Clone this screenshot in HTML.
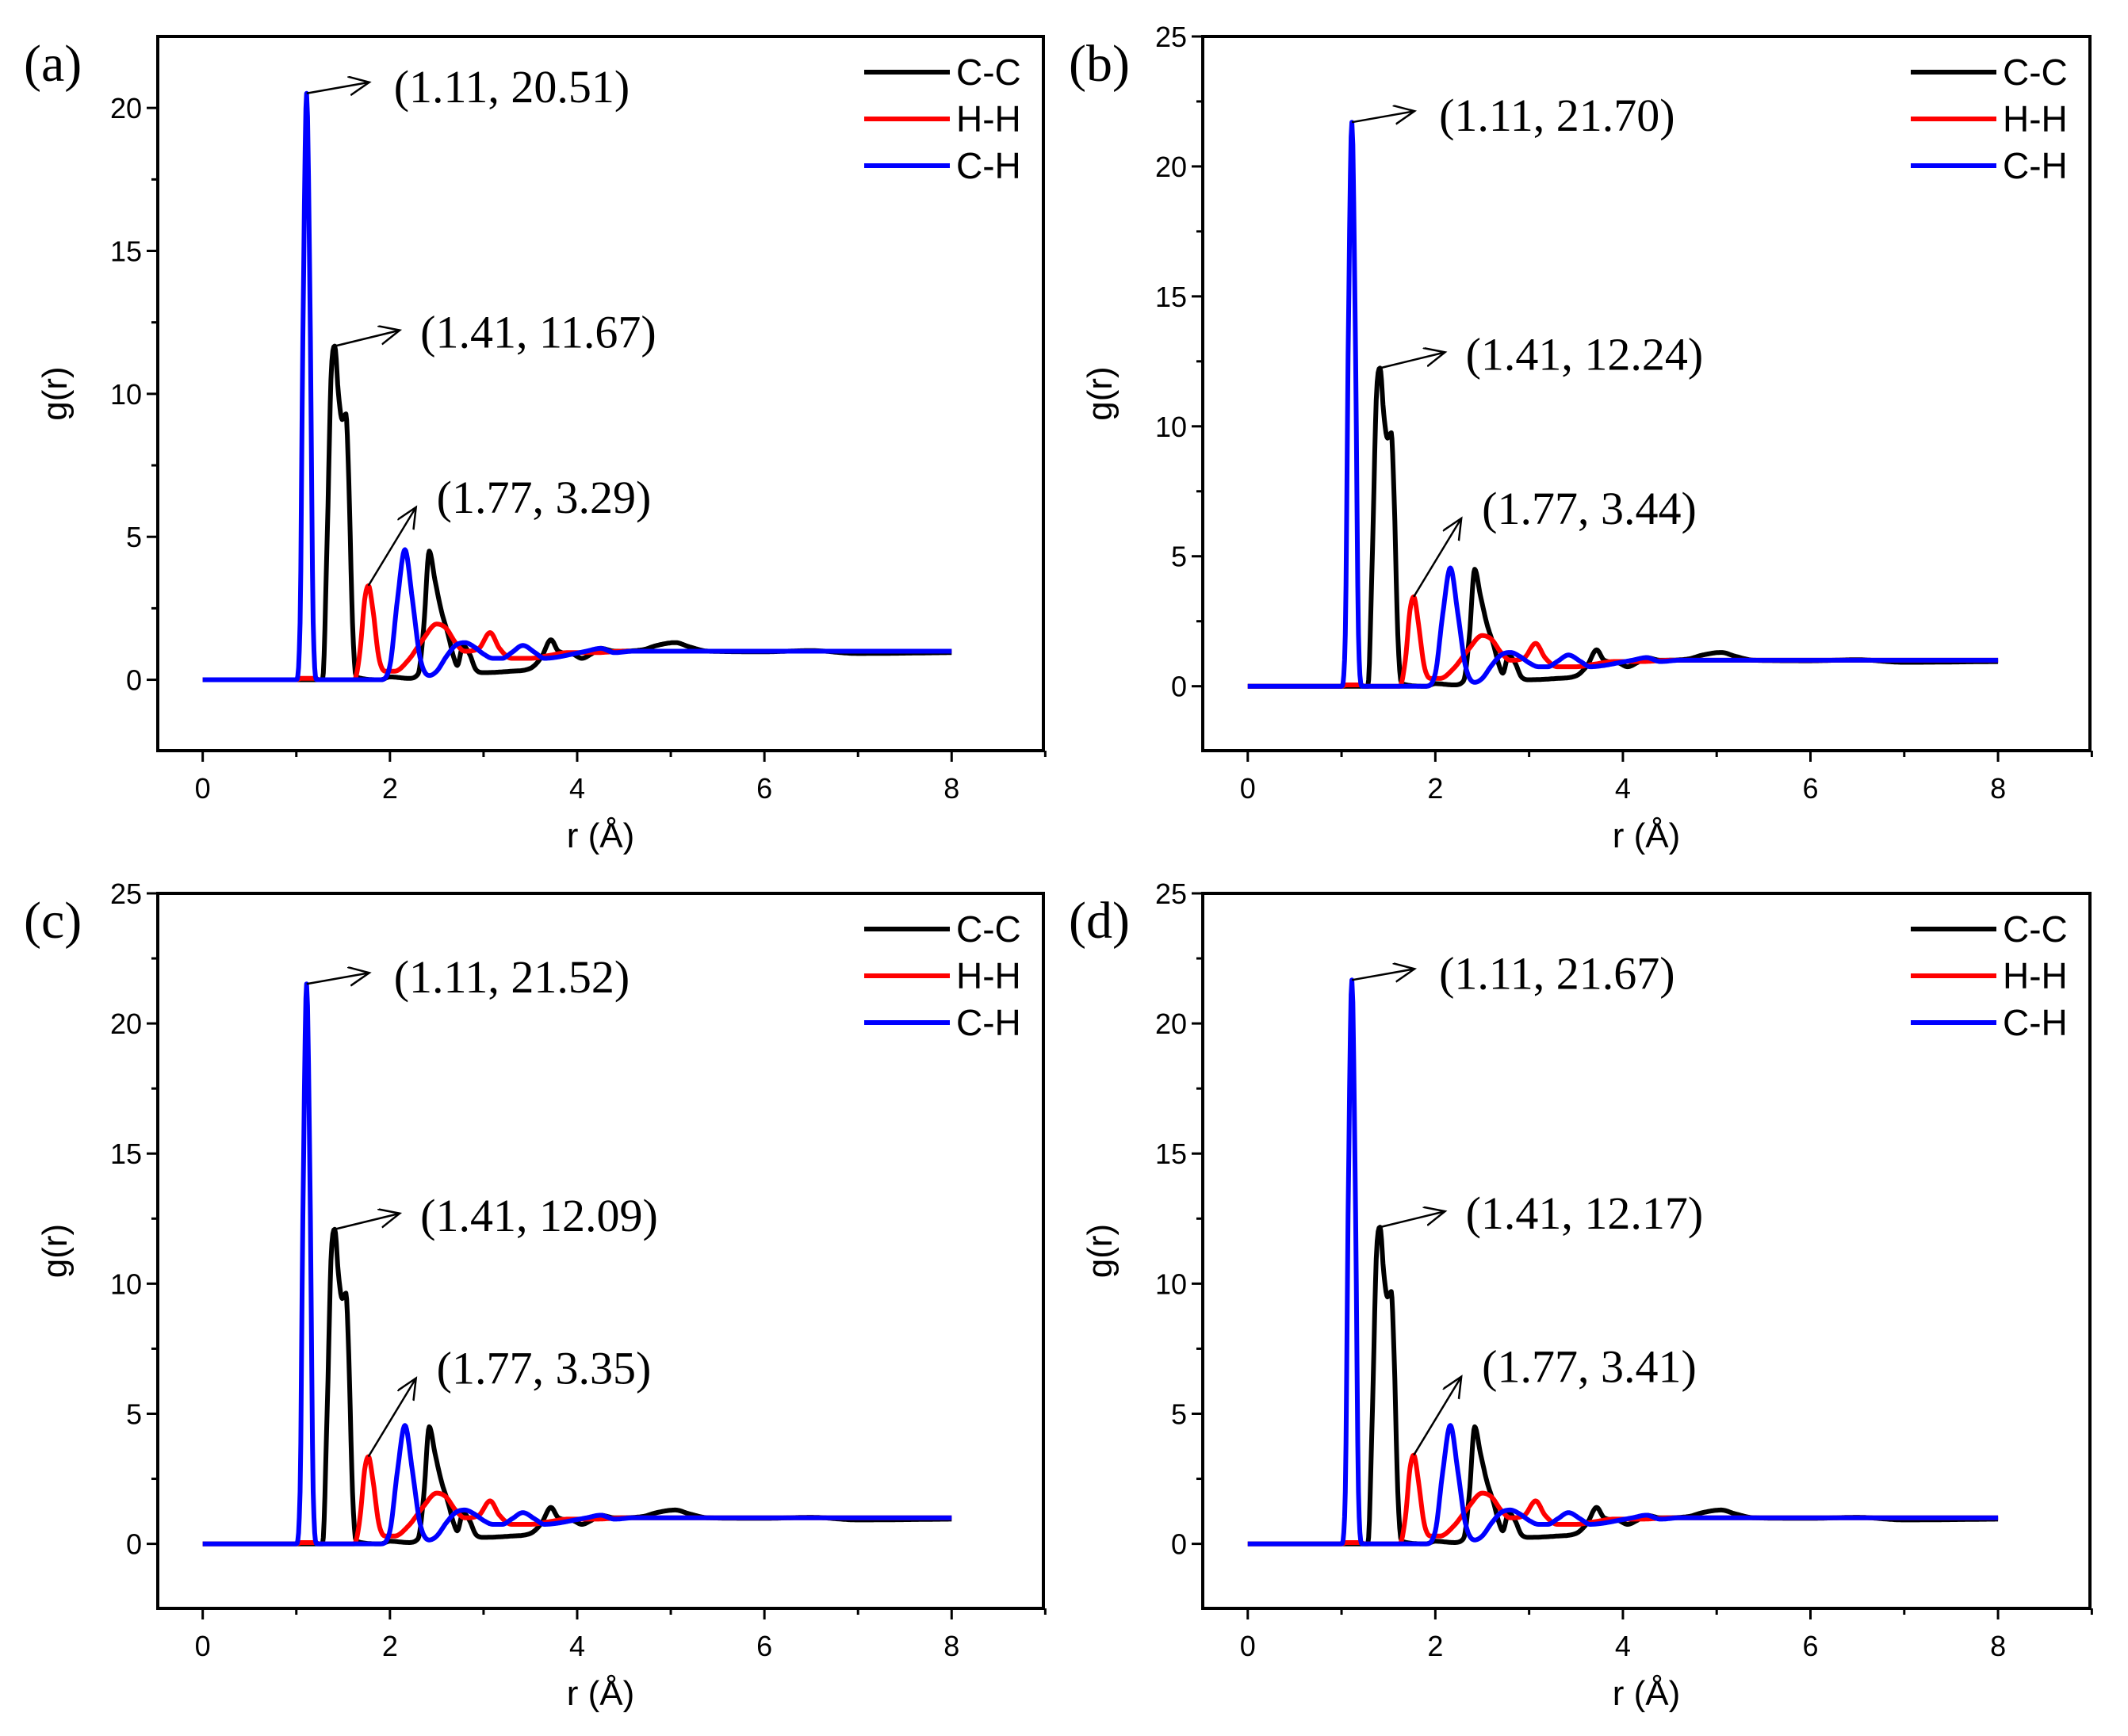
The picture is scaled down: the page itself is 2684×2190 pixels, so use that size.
<!DOCTYPE html>
<html><head><meta charset="utf-8"><style>
html,body{margin:0;padding:0;background:#fff;}
svg{display:block;}
</style></head><body>
<svg id="fig" width="2684" height="2190" viewBox="0 0 2684 2190" xmlns="http://www.w3.org/2000/svg"></svg>
<script>
// ---- data (panel a base curves; r in Å, g(r)) ----
const chR = [0,1.0,1.04,1.07,1.11,1.15,1.18,1.22,1.9,2.0,2.08,2.16,2.24,2.32,2.42,2.5,2.6,2.7,2.8,2.9,3.0,3.1,3.2,3.3,3.42,3.55,3.65,3.8,3.95,4.1,4.25,4.4,4.6,5,6,8];
const chG = [0,0,2,12,20.51,12,2,0,0,0.5,2.8,4.55,2.8,0.8,0.15,0.3,0.8,1.2,1.3,1.15,0.9,0.75,0.75,0.95,1.2,0.95,0.75,0.8,0.9,1.0,1.1,0.95,1.0,1.0,1.0,1.0];
const ccR = [0,1.28,1.33,1.37,1.41,1.45,1.49,1.53,1.56,1.6,1.64,1.9,2.0,2.2,2.3,2.36,2.42,2.48,2.55,2.62,2.68,2.72,2.78,2.85,2.92,3.0,3.3,3.5,3.62,3.72,3.8,3.95,4.05,4.15,4.25,4.4,4.7,4.85,5.05,5.2,5.4,6,6.5,7,8];
const ccG = [0,0,5,10.5,11.67,10,9.1,9.3,7,2,0.1,0,0.1,0.05,0.2,1.8,4.5,3.5,2.4,1.6,0.8,0.5,1.2,0.9,0.35,0.25,0.3,0.4,0.8,1.4,1.0,0.9,0.75,0.9,1.1,1.0,1.05,1.2,1.3,1.15,1.0,0.98,1.02,0.92,0.95];
const hhR = [0,1.0,1.05,1.2,1.25,1.62,1.68,1.73,1.77,1.82,1.88,1.95,2.05,2.2,2.35,2.5,2.6,2.7,2.8,2.95,3.07,3.17,3.3,3.5,3.7,3.9,4.2,4.5,5,8];
const hhG = [0,0,0.05,0.05,0,0,1,2.8,3.29,2.4,0.8,0.3,0.3,0.7,1.4,1.95,1.8,1.3,1.0,1.1,1.65,1.1,0.75,0.75,0.85,0.95,0.95,1.0,1.0,1.0];
// per-panel annotated peak values
const panelLabels = ["(a)","(b)","(c)","(d)"];
const chPeak = [20.51,21.70,21.52,21.67];
const ccPeak = [11.67,12.24,12.09,12.17];
const hhPeak = [3.29,3.44,3.35,3.41];
const peakR = [1.11,1.41,1.77];
const yMaxes = [22.5,25,25,25];
const yTicksA = [0,5,10,15,20];
const yTicksB = [0,5,10,15,20,25];
const xTicks = [0,2,4,6,8];
const legendNames = ["C-C","H-H","C-H"];
const colors = ["#000","#f00","#00f"];

const NS="http://www.w3.org/2000/svg";
const svg=document.getElementById('fig');
function el(tag,attrs,parent){const e=document.createElementNS(NS,tag);for(const k in attrs)e.setAttribute(k,attrs[k]);(parent||svg).appendChild(e);return e;}
function monotone(xs,ys){
  const n=xs.length,d=[],m=new Array(n);
  for(let i=0;i<n-1;i++)d.push((ys[i+1]-ys[i])/(xs[i+1]-xs[i]));
  m[0]=d[0];m[n-1]=d[n-2];
  for(let i=1;i<n-1;i++){m[i]=(d[i-1]*d[i]<=0)?0:(d[i-1]+d[i])/2;}
  for(let i=0;i<n-1;i++){if(d[i]===0){m[i]=0;m[i+1]=0;continue;}const a=m[i]/d[i],b=m[i+1]/d[i],s=a*a+b*b;if(s>9){const t=3/Math.sqrt(s);m[i]=t*a*d[i];m[i+1]=t*b*d[i];}}
  const out=[];
  for(let i=0;i<n-1;i++){const h=xs[i+1]-xs[i];const steps=Math.max(2,Math.ceil(h/0.01));
    for(let k=0;k<steps;k++){const t=k/steps,t2=t*t,t3=t2*t;
      const y=(2*t3-3*t2+1)*ys[i]+(t3-2*t2+t)*h*m[i]+(-2*t3+3*t2)*ys[i+1]+(t3-t2)*h*m[i+1];
      out.push([xs[i]+t*h,y]);}}
  out.push([xs[n-1],ys[n-1]]);return out;
}
const boxes=[{l:199,t:46,r:1316,b:947},{l:1517,t:46,r:2636,b:947},{l:199,t:1127,r:1316,b:2029},{l:1517,t:1127,r:2636,b:2029}];
const defs=el('defs',{});
const mk=el('marker',{id:'arr',markerWidth:'30',markerHeight:'30',refX:'26',refY:'12',orient:'auto',markerUnits:'userSpaceOnUse'},defs);
el('path',{d:'M0,0 L26,12 L0,24',fill:'none',stroke:'#000','stroke-width':'2.5'},mk);

boxes.forEach((B,p)=>{
  const g=el('g',{});
  
  
  const xMin=-0.48,xMax=8.98,yMin=-2.48,yMax=yMaxes[p];
  const X=v=>B.l+(v-xMin)/(xMax-xMin)*(B.r-B.l);
  const Y=v=>B.b-(v-yMin)/(yMax-yMin)*(B.b-B.t);
  xTicks.forEach(t=>{
    el('line',{x1:X(t),x2:X(t),y1:B.b,y2:B.b+14,stroke:'#000','stroke-width':3},g);
    el('line',{x1:X(t+1),x2:X(t+1),y1:B.b,y2:B.b+8,stroke:'#000','stroke-width':3},g);
    const tx=el('text',{x:X(t),y:B.b+60,'text-anchor':'middle','font-family':'Liberation Sans, sans-serif','font-size':'36',fill:'#000'},g);
    tx.textContent=t;
    
    
  });
  const yt=p===0?yTicksA:yTicksB;
  yt.forEach(t=>{
    el('line',{x1:B.l-14,x2:B.l,y1:Y(t),y2:Y(t),stroke:'#000','stroke-width':3},g);
    if(Y(t+2.5)>B.t) el('line',{x1:B.l-8,x2:B.l,y1:Y(t+2.5),y2:Y(t+2.5),stroke:'#000','stroke-width':3},g);
    const ty=el('text',{x:B.l-20,y:Y(t)+13,'text-anchor':'end','font-family':'Liberation Sans, sans-serif','font-size':'36',fill:'#000'},g);
    ty.textContent=t;
    
    
  });
  const xt=el('text',{x:(B.l+B.r)/2,y:B.b+122,'text-anchor':'middle','font-family':'Liberation Sans, sans-serif','font-size':'44',fill:'#000'},g);
  xt.textContent='r (Å)';
  
  
  const yc=(B.t+B.b)/2, yx=B.l-130;
  const ya=el('text',{x:yx,y:yc,'text-anchor':'middle','font-family':'Liberation Sans, sans-serif','font-size':'44',fill:'#000',transform:`rotate(-90 ${yx} ${yc}) translate(0 15)`},g);
  ya.textContent='g(r)';
  
  
  const pl=el('text',{x:B.l-169,y:B.t+56,'font-family':'Liberation Serif, serif','font-size':'66',fill:'#000'},g);
  pl.textContent=panelLabels[p];
  
  
  const series=[[ccR,ccG,ccPeak[p]/ccG[4],4],[hhR,hhG,hhPeak[p]/hhG[8],8],[chR,chG,chPeak[p]/chG[4],4]];
  const clip=el('clipPath',{id:'clip'+p},defs);
  el('rect',{x:B.l,y:B.t,width:B.r-B.l,height:B.b-B.t},clip);
  series.forEach((s,i)=>{
    const [R,G,sc,pk]=s;
    const vals=R.map((r,j)=>(G[j]>2.5&&Math.abs(j-pk)<=4&&r<2)?G[j]*sc:G[j]);
    const pts=monotone(R,vals);
    const d=pts.map((q,j)=>(j?'L':'M')+X(q[0]).toFixed(1)+','+Y(q[1]).toFixed(1)).join(' ');
    const path=el('path',{d:d,fill:'none',stroke:colors[i],'stroke-width':6,'stroke-linejoin':'round','clip-path':`url(#clip${p})`},g);
    
    
  });
  const peaks=[chPeak[p],ccPeak[p],hhPeak[p]];
  const arrowOff=[[79,-14],[82,-20],[60,-99]];
  const textOff=[[110,-10],[108,-19],[86,-113]];
  peaks.forEach((v,k)=>{
    const px=X(peakR[k]),py=Y(v);
    el('line',{x1:px,y1:py,x2:px+arrowOff[k][0],y2:py+arrowOff[k][1],stroke:'#000','stroke-width':2.5,'marker-end':'url(#arr)'},g);
    const at=el('text',{x:px+textOff[k][0],y:py+textOff[k][1]+21,'font-family':'Liberation Serif, serif','font-size':'58',fill:'#000'},g);
    at.textContent='('+peakR[k].toFixed(2)+', '+v.toFixed(2)+')';
    
    
  });
  legendNames.forEach((n,i)=>{
    const ly=B.t+45+i*59;
    const ll=el('line',{x1:B.r-226,x2:B.r-118,y1:ly,y2:ly,stroke:colors[i],'stroke-width':6},g);
    
    
    const lt=el('text',{x:B.r-110,y:ly+16,'font-family':'Liberation Sans, sans-serif','font-size':'46',fill:'#000'},g);
    lt.textContent=n;
    
    
  });
  el('rect',{x:B.l,y:B.t,width:B.r-B.l,height:B.b-B.t,fill:'none',stroke:'#000','stroke-width':4},g);
});
</script>
</body></html>
